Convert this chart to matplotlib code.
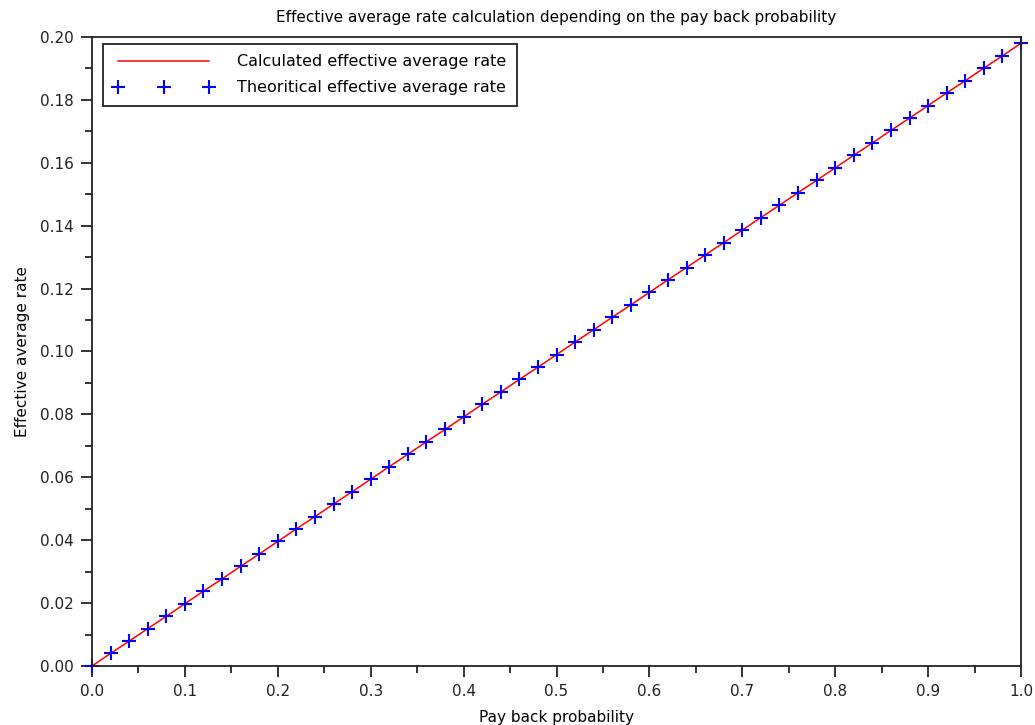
import numpy as np
import matplotlib.pyplot as plt

# Pay back probability (x) and effective average rate (y)
pay_back = [0.00, 0.02, 0.04, 0.06, 0.08, 0.10, 0.12, 0.14, 0.16, 0.18,
            0.20, 0.22, 0.24, 0.26, 0.28, 0.30, 0.32, 0.34, 0.36, 0.38,
            0.40, 0.42, 0.44, 0.46, 0.48, 0.50, 0.52, 0.54, 0.56, 0.58,
            0.60, 0.62, 0.64, 0.66, 0.68, 0.70, 0.72, 0.74, 0.76, 0.78,
            0.80, 0.82, 0.84, 0.86, 0.88, 0.90, 0.92, 0.94, 0.96, 0.98, 1.00]
rate_calc = [0.0000, 0.0040, 0.0079, 0.0119, 0.0158, 0.0198, 0.0238, 0.0277, 0.0317, 0.0356,
             0.0396, 0.0436, 0.0475, 0.0515, 0.0554, 0.0594, 0.0634, 0.0673, 0.0713, 0.0752,
             0.0792, 0.0832, 0.0871, 0.0911, 0.0950, 0.0990, 0.1030, 0.1069, 0.1109, 0.1148,
             0.1188, 0.1228, 0.1267, 0.1307, 0.1346, 0.1386, 0.1426, 0.1465, 0.1505, 0.1544,
             0.1584, 0.1624, 0.1663, 0.1703, 0.1742, 0.1782, 0.1822, 0.1861, 0.1901, 0.1940, 0.1980]
rate_theo = [0.0000, 0.0040, 0.0079, 0.0119, 0.0158, 0.0198, 0.0238, 0.0277, 0.0317, 0.0356,
             0.0396, 0.0436, 0.0475, 0.0515, 0.0554, 0.0594, 0.0634, 0.0673, 0.0713, 0.0752,
             0.0792, 0.0832, 0.0871, 0.0911, 0.0950, 0.0990, 0.1030, 0.1069, 0.1109, 0.1148,
             0.1188, 0.1228, 0.1267, 0.1307, 0.1346, 0.1386, 0.1426, 0.1465, 0.1505, 0.1544,
             0.1584, 0.1624, 0.1663, 0.1703, 0.1742, 0.1782, 0.1822, 0.1861, 0.1901, 0.1940, 0.1980]

x_ticks = [0.0, 0.1, 0.2, 0.3, 0.4, 0.5, 0.6, 0.7, 0.8, 0.9, 1.0]
y_ticks = [0.00, 0.02, 0.04, 0.06, 0.08, 0.10, 0.12, 0.14, 0.16, 0.18, 0.20]

plt.rcParams['font.family'] = ['DejaVu Sans']

fig = plt.figure(figsize=(10.35, 7.25), dpi=100)
ax = fig.add_axes([0.0889, 0.0814, 0.8976, 0.8676])

ax.plot(pay_back, rate_calc, color='red', lw=1.1, label='Calculated effective average rate')
ax.plot(pay_back, rate_theo, ls='none', marker='+', ms=10, mew=1.5, color='blue',
        label='Theoritical effective average rate', clip_on=False)

ax.set_xlim(0, 1.0)
ax.set_ylim(0, 0.20)
ax.set_xticks(x_ticks)
ax.set_yticks(y_ticks)
ax.set_xticklabels(['%.1f' % v for v in x_ticks])
ax.set_yticklabels(['%.2f' % v for v in y_ticks])
ax.set_xticks(np.arange(0.05, 1.0, 0.1), minor=True)
ax.set_yticks(np.arange(0.01, 0.2, 0.02), minor=True)
ax.tick_params(which='major', direction='out', length=8, width=1.3, labelsize=11,
               pad=5, color='#222222', labelcolor='#222222')
ax.tick_params(which='minor', direction='out', length=5, width=1.3, color='#222222')
for s in ax.spines.values():
    s.set_linewidth(1.3)
    s.set_color('#222222')

ax.set_title('Effective average rate calculation depending on the pay back probability',
             fontsize=11, pad=11)
ax.set_xlabel('Pay back probability', fontsize=11, labelpad=8)
ax.set_ylabel('Effective average rate', fontsize=11, labelpad=7)

leg = ax.legend(loc='upper left', bbox_to_anchor=(0.0118, 0.989), borderaxespad=0,
                numpoints=3, handlelength=6.3, fontsize=11.5,
                fancybox=False, framealpha=1, edgecolor='#222222',
                borderpad=0.65, handletextpad=1.45, labelspacing=0.7)
leg.get_frame().set_linewidth(1.3)

fig.savefig('out.png', dpi=100)
